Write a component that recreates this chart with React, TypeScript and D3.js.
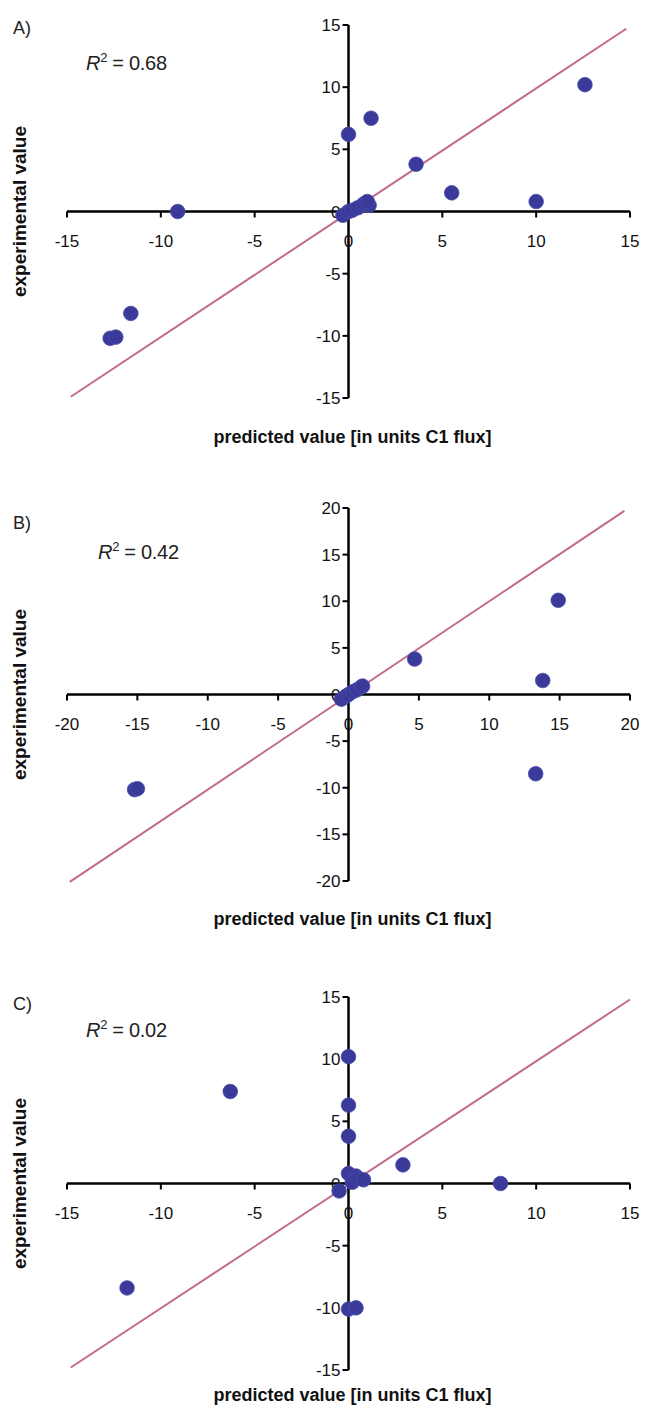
import React from "react";
import * as d3 from "d3";

// ---------- data ----------
const predA = [-12.7, -12.4, -11.6, -9.1, -0.3, 0, 0.2, 0.5, 0.8, 1.1, 1.0, 0, 1.2, 3.6, 5.5, 10.0, 12.6];
const expA = [-10.2, -10.1, -8.2, 0, -0.3, 0, 0.1, 0.3, 0.6, 0.5, 0.8, 6.2, 7.5, 3.8, 1.5, 0.8, 10.2];

const predB = [-15.2, -15.0, -0.5, -0.2, 0, 0.3, 0.6, 0.9, 1.0, 4.7, 13.3, 13.8, 14.9];
const expB = [-10.2, -10.1, -0.5, -0.2, 0, 0.3, 0.5, 0.8, 0.9, 3.8, -8.5, 1.5, 10.1];

const predC = [-11.8, -6.3, 0, 0, 0, 0, 0.4, -0.5, 0.2, 0.5, 0.8, 2.9, 8.1, 0, 0.4];
const expC = [-8.4, 7.4, 10.2, 6.3, 3.8, 0.8, 0.6, -0.6, 0.1, 0.4, 0.3, 1.5, 0, -10.1, -10.0];

const lineAx = [-14.8, 14.8];
const lineAy = [-14.9, 14.7];
const lineBx = [-19.8, 19.6];
const lineBy = [-20.1, 19.7];
const lineCx = [-14.8, 15];
const lineCy = [-14.8, 14.8];

const ticks15 = [-15, -10, -5, 0, 5, 10, 15];
const ticks20 = [-20, -15, -10, -5, 0, 5, 10, 15, 20];

const panelLabels = ["A)", "B)", "C)"];
const r2Values = ["0.68", "0.42", "0.02"];
const xTitle = "predicted value [in units C1 flux]";
const yTitle = "experimental value";

// ---------- style ----------
const FONT = "'Liberation Sans', Arial, sans-serif";
const DOT = "#3a3a9a";
const LINE = "#c26a8c";

type PanelProps = {
  label: string;
  r2: string;
  pred: number[];
  exp: number[];
  lx: number[];
  ly: number[];
  ticks: number[];
  dom: number;
  top: number;
  bottom: number;
  left: number;
  right: number;
  labelY: number;
  r2X: number;
  r2Y: number;
  xTitleY: number;
};

function Panel(p: PanelProps) {
  const x = d3.scaleLinear().domain([-p.dom, p.dom]).range([p.left, p.right]);
  const y = d3.scaleLinear().domain([-p.dom, p.dom]).range([p.bottom, p.top]);
  const x0 = x(0);
  const y0 = y(0);
  const line = d3
    .line<number>()
    .x((_, i) => x(p.lx[i]))
    .y((_, i) => y(p.ly[i]));
  const pts = p.pred.map((v, i) => ({ px: v, ey: p.exp[i] }));
  return (
    <g>
      <text x={13} y={p.labelY} fontSize={18} fontFamily={FONT} fill="#222">
        {p.label}
      </text>
      <text x={p.r2X} y={p.r2Y} fontSize={20} fontFamily={FONT} fill="#222" letterSpacing={-0.3}>
        <tspan fontStyle="italic">R</tspan>
        <tspan dy={-8} fontSize={13}>2</tspan>
        <tspan dy={8}>{" = " + p.r2}</tspan>
      </text>
      <line x1={p.left} x2={p.right} y1={y0} y2={y0} stroke="#000" strokeWidth={2.5} />
      <line x1={x0} x2={x0} y1={p.top} y2={p.bottom} stroke="#000" strokeWidth={2.5} />
      {p.ticks.map((t) => (
        <g key={"x" + t}>
          <line x1={x(t)} x2={x(t)} y1={y0} y2={y0 + 6} stroke="#000" strokeWidth={2} />
          <text
            x={x(t)}
            y={y0 + 35}
            textAnchor="middle"
            fontSize={17}
            fontFamily={FONT}
            fill="#111"
          >
            {t}
          </text>
        </g>
      ))}
      {p.ticks.map((t) => (
        <g key={"y" + t}>
          <line x1={x0 - 6} x2={x0} y1={y(t)} y2={y(t)} stroke="#000" strokeWidth={2} />
          <text
            x={x0 - 8}
            y={y(t) + 6}
            textAnchor="end"
            fontSize={17}
            fontFamily={FONT}
            fill="#111"
          >
            {t}
          </text>
        </g>
      ))}
      <path d={line(p.lx) || ""} stroke={LINE} strokeWidth={2} fill="none" />
      {pts.map((d, i) => (
        <circle key={i} cx={x(d.px)} cy={y(d.ey)} r={7.3} fill={DOT} stroke="#4a4aa8" strokeWidth={0.8} />
      ))}
      <text
        x={x0 + 4}
        y={p.xTitleY}
        textAnchor="middle"
        fontSize={18}
        fontWeight="bold"
        fontFamily={FONT}
        fill="#111"
      >
        {xTitle}
      </text>
      <text
        transform={`translate(26,${y0}) rotate(-90)`}
        textAnchor="middle"
        fontSize={19}
        fontWeight="bold"
        fontFamily={FONT}
        fill="#111"
      >
        {yTitle}
      </text>
    </g>
  );
}

export default function App() {
  return (
    <svg
      width={648}
      height={1409}
      style={{ position: "absolute", left: 0, top: 0, background: "#fff" }}
    >
      <rect x={0} y={0} width={648} height={1409} fill="#fff" />
      <Panel
        label={panelLabels[0]}
        r2={r2Values[0]}
        pred={predA}
        exp={expA}
        lx={lineAx}
        ly={lineAy}
        ticks={ticks15}
        dom={15}
        top={25}
        bottom={398}
        left={67}
        right={630}
        labelY={34}
        r2X={86}
        r2Y={70}
        xTitleY={443}
      />
      <Panel
        label={panelLabels[1]}
        r2={r2Values[1]}
        pred={predB}
        exp={expB}
        lx={lineBx}
        ly={lineBy}
        ticks={ticks20}
        dom={20}
        top={508}
        bottom={881}
        left={67}
        right={630}
        labelY={529}
        r2X={98}
        r2Y={559}
        xTitleY={925}
      />
      <Panel
        label={panelLabels[2]}
        r2={r2Values[2]}
        pred={predC}
        exp={expC}
        lx={lineCx}
        ly={lineCy}
        ticks={ticks15}
        dom={15}
        top={997}
        bottom={1370}
        left={67}
        right={630}
        labelY={1010}
        r2X={86}
        r2Y={1037}
        xTitleY={1401}
      />
    </svg>
  );
}
